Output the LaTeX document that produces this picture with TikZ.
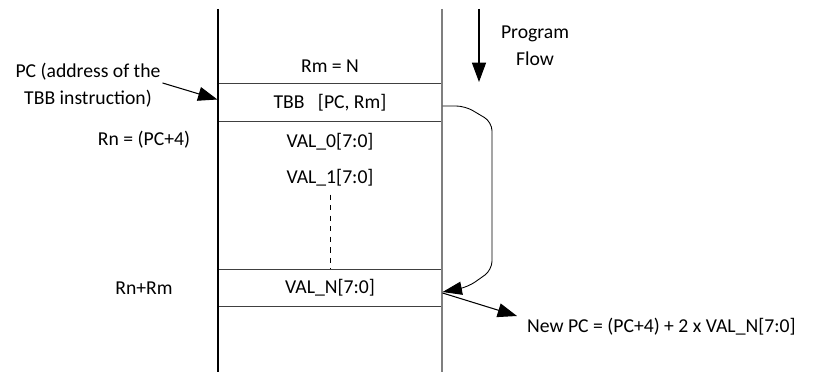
\documentclass[tikz,border=0pt]{standalone}
\usepackage{fontspec}
\setmainfont{Carlito}
\usepackage{tikz}
\usetikzlibrary{arrows.meta,calc,positioning}
\definecolor{mline}{HTML}{404040}
\definecolor{mgray}{HTML}{7F7F7F}
\tikzset{
  mtxt/.style={font=\fontsize{11.2}{15.3}\selectfont, inner sep=1pt, align=center},
  mcell/.style={draw=mline, line width=0.7pt, minimum width=4.48cm,
                minimum height=0.75cm, inner sep=0pt,
                font=\fontsize{11.2}{15.3}\selectfont},
  mflow/.style={-{Triangle[length=11pt,width=8pt]}, line width=0.6pt},
  mjump/.style={-{Triangle[length=11pt,width=7.5pt]}, line width=0.5pt,
                rounded corners=5pt},
}

\begin{document}
\begin{tikzpicture}[x=0.02cm, y=-0.02cm]

  \useasboundingbox (0,0) rectangle (824,378);

  % coluna de memoria
  \coordinate (lt) at (218,9);
  \coordinate (lb) at (218,372);
  \coordinate (rt) at (442,9);
  \coordinate (rb) at (442,372);

  \node[mcell] (tbb)  at (330,102.5) {TBB\ \ \ [PC, Rm]};
  \node[mcell] (valn) at (330,288)   {VAL\_N[7:0]};

  \draw[black, line width=0.6pt] (lt) -- (lb);
  \draw[mgray, line width=0.9pt] (rt) -- (rb);

  \node[mtxt] (rm)   at (330,66)  {Rm = N};
  \node[mtxt] (val0) at (330,142) {VAL\_0[7:0]};
  \node[mtxt] (val1) at (330,178) {VAL\_1[7:0]};
  \draw[dashed, line width=0.5pt] ([yshift=-0.12cm]val1.south) -- (valn.north);

  % rotulos da esquerda
  \node[mtxt] (pclbl) at (88,85) {PC (address of the\\TBB instruction)};
  \node[mtxt] (rn)    at (144,140) {Rn = (PC+4)};
  \node[mtxt] (rnrm)  at (144,288) {Rn+Rm};
  \draw[mflow] ([yshift=0.04cm]pclbl.east) -- ([yshift=0.06cm]tbb.west);

  % fluxo do programa
  \coordinate (pf1) at (479,9);
  \coordinate (pf2) at (479,82);
  \draw[mflow] (pf1) -- (pf2);
  \node[mtxt] (flow) at (535,46) {Program\\Flow};

  % salto da tabela
  \draw[mjump] ([yshift=-0.07cm]tbb.east) -- (465,106) -- (492,122)
    -- (492,270) -- (468,287) -- ([yshift=-0.08cm]valn.east);

  % novo PC
  \node[mtxt, anchor=west] (newpc) at (525,327) {New PC = (PC+4) + 2 x VAL\_N[7:0]};
  \coordinate (np) at (517,316);
  \draw[mflow] ([yshift=-0.1cm]valn.east) -- (np);

\end{tikzpicture}
\end{document}
